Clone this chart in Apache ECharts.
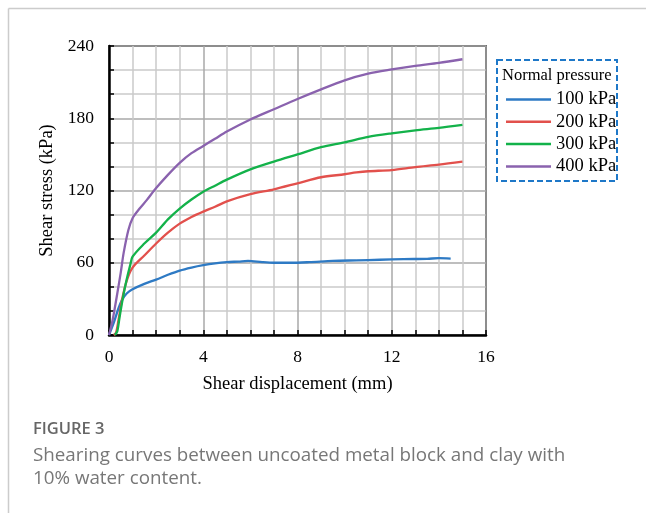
<!DOCTYPE html>
<html>
<head>
<meta charset="utf-8">
<script src="https://cdn.jsdelivr.net/npm/echarts@6/dist/echarts.min.js"></script>
<style>
html,body{margin:0;padding:0;background:#fff;}
#chart{width:646px;height:513px;}
</style>
</head>
<body>
<div id="chart"></div>
<script>
// ---- data ----
const seriesNames = ['100 kPa', '200 kPa', '300 kPa', '400 kPa'];

const x100 = [0, 0.2, 0.4, 0.55, 0.75, 1.0, 1.5, 2.0, 2.5, 3.0, 3.5, 4.0, 4.5, 5.0, 5.5, 5.9, 6.5, 7.0, 7.7, 8.5, 9.5, 10.5, 11.5, 12.5, 13.5, 14.0, 14.5];
const y100 = [0, 10, 22, 29, 34.5, 38, 42.5, 46, 50, 53.5, 56, 58, 59.5, 60.5, 61, 61.5, 60.5, 60, 60, 60.5, 61.5, 62, 62.5, 63, 63.3, 63.8, 63.5];

const x200 = [0.2, 0.3, 0.4, 0.55, 0.75, 1.0, 1.5, 2.0, 2.5, 3.0, 3.5, 4.0, 4.5, 5.0, 6.0, 7.0, 8.0, 9.0, 10.0, 10.5, 11.0, 12.0, 13.0, 14.0, 15.0];
const y200 = [0, 2, 12, 29, 45, 56, 66, 76, 85, 92.5, 98, 102.5, 106.5, 111, 117, 121, 126, 131, 133.5, 135, 136, 137, 139.5, 141.5, 144];

const x300 = [0.25, 0.35, 0.45, 0.6, 0.75, 0.9, 1.0, 1.5, 2.0, 2.5, 3.0, 3.5, 4.0, 4.5, 5.0, 6.0, 7.0, 8.0, 9.0, 10.0, 11.0, 12.0, 13.0, 14.0, 15.0];
const y300 = [0, 3, 15, 32, 46, 58, 65, 76, 85, 96, 105, 112.5, 119, 124, 129, 137.5, 144, 150, 156, 160, 164.5, 167.5, 170, 172, 174.5];

const x400 = [0, 0.15, 0.33, 0.5, 0.62, 0.82, 1.0, 1.3, 1.6, 2.0, 2.5, 3.0, 3.5, 4.0, 4.5, 5.0, 6.0, 7.0, 8.0, 9.0, 10.0, 11.0, 12.0, 13.0, 14.0, 15.0];
const y400 = [0, 12, 32, 52, 68, 87, 97, 105, 112, 122, 133, 143, 151, 157, 163, 169, 179, 187.5, 196, 204, 211.5, 217, 220.5, 223.5, 226, 229];

const xTicks = [0, 4, 8, 12, 16];
const yTicks = [0, 60, 120, 180, 240];

const colors = ['#2e7ac4', '#e2504c', '#13b24a', '#8a62ae'];
const serif = '"Liberation Serif", "Times New Roman", serif';

const pairs = (xs, ys) => xs.map((x, i) => [x, ys[i]]);
const allData = [pairs(x100, y100), pairs(x200, y200), pairs(x300, y300), pairs(x400, y400)];

const chart = echarts.init(document.getElementById('chart'), null, {renderer: 'canvas'});

const option = {
  backgroundColor: '#fff',
  animation: false,
  grid: {left: 109, top: 46, right: 160, bottom: 178, show: true, borderColor: '#000', borderWidth: 1.5, backgroundColor: 'transparent'},
  xAxis: {
    type: 'value', min: xTicks[0], max: xTicks[xTicks.length - 1], interval: 4,
    name: 'Shear displacement (mm)', nameLocation: 'middle', nameGap: 40,
    nameTextStyle: {fontFamily: serif, fontSize: 18.5, color: '#000'},
    axisLine: {show: true, lineStyle: {color: '#000', width: 2.5}},
    axisTick: {show: true, inside: true, length: 5, lineStyle: {color: '#000', width: 1.5}},
    minorTick: {show: true, splitNumber: 4, length: 5, lineStyle: {color: '#000', width: 1.5}},
    axisLabel: {fontFamily: serif, fontSize: 17.5, color: '#000', margin: 13},
    splitLine: {show: true, lineStyle: {color: '#a8a8a8', width: 1.5}},
    minorSplitLine: {show: true, lineStyle: {color: '#cacaca', width: 1.5}}
  },
  yAxis: {
    type: 'value', min: yTicks[0], max: yTicks[yTicks.length - 1], interval: 60,
    name: 'Shear stress (kPa)', nameLocation: 'middle', nameGap: 50,
    nameTextStyle: {fontFamily: serif, fontSize: 18.5, color: '#000'},
    axisLine: {show: true, lineStyle: {color: '#000', width: 2.5}},
    axisTick: {show: true, inside: true, length: 5, lineStyle: {color: '#000', width: 1.5}},
    minorTick: {show: true, splitNumber: 3, length: 5, lineStyle: {color: '#000', width: 1.5}},
    axisLabel: {fontFamily: serif, fontSize: 17.5, color: '#000', margin: 15},
    splitLine: {show: true, lineStyle: {color: '#a8a8a8', width: 1.5}},
    minorSplitLine: {show: true, lineStyle: {color: '#cacaca', width: 1.5}}
  },
  legend: {
    orient: 'vertical', left: 506, top: 90,
    icon: 'rect', itemWidth: 45, itemHeight: 2.5, itemGap: 3.3,
    data: seriesNames,
    textStyle: {fontFamily: serif, fontSize: 18.5, lineHeight: 18, color: '#000'},
    padding: 0
  },
  series: seriesNames.map((n, i) => ({
    name: n, type: 'line', data: allData[i], symbol: 'none', smooth: 0.3,
    lineStyle: {color: colors[i], width: 2.3}, itemStyle: {color: colors[i]}
  })),
  graphic: [
    {type: 'line', shape: {x1: 8.5, y1: 8.5, x2: 646, y2: 8.5}, style: {stroke: '#cccccc', lineWidth: 1.5}},
    {type: 'line', shape: {x1: 8.5, y1: 8.5, x2: 8.5, y2: 513}, style: {stroke: '#cccccc', lineWidth: 1.5}},
    {type: 'rect', shape: {x: 497, y: 60, width: 120, height: 121}, style: {fill: 'none', stroke: '#1e78c8', lineWidth: 2, lineDash: [6, 3]}},
    {type: 'text', left: 502, top: 67, style: {text: 'Normal pressure', font: '16.5px ' + serif, fill: '#000'}},
    {type: 'text', left: 33, top: 421, style: {text: 'FIGURE 3', font: '600 16.5px "Open Sans", sans-serif', fill: '#666'}},
    {type: 'text', left: 33, top: 446, style: {text: 'Shearing curves between uncoated metal block and clay with', font: '18.8px "Open Sans", sans-serif', fill: '#777'}},
    {type: 'text', left: 33, top: 469, style: {text: '10% water content.', font: '18.8px "Open Sans", sans-serif', fill: '#777'}}
  ]
};
chart.setOption(option);
</script>
</body>
</html>
